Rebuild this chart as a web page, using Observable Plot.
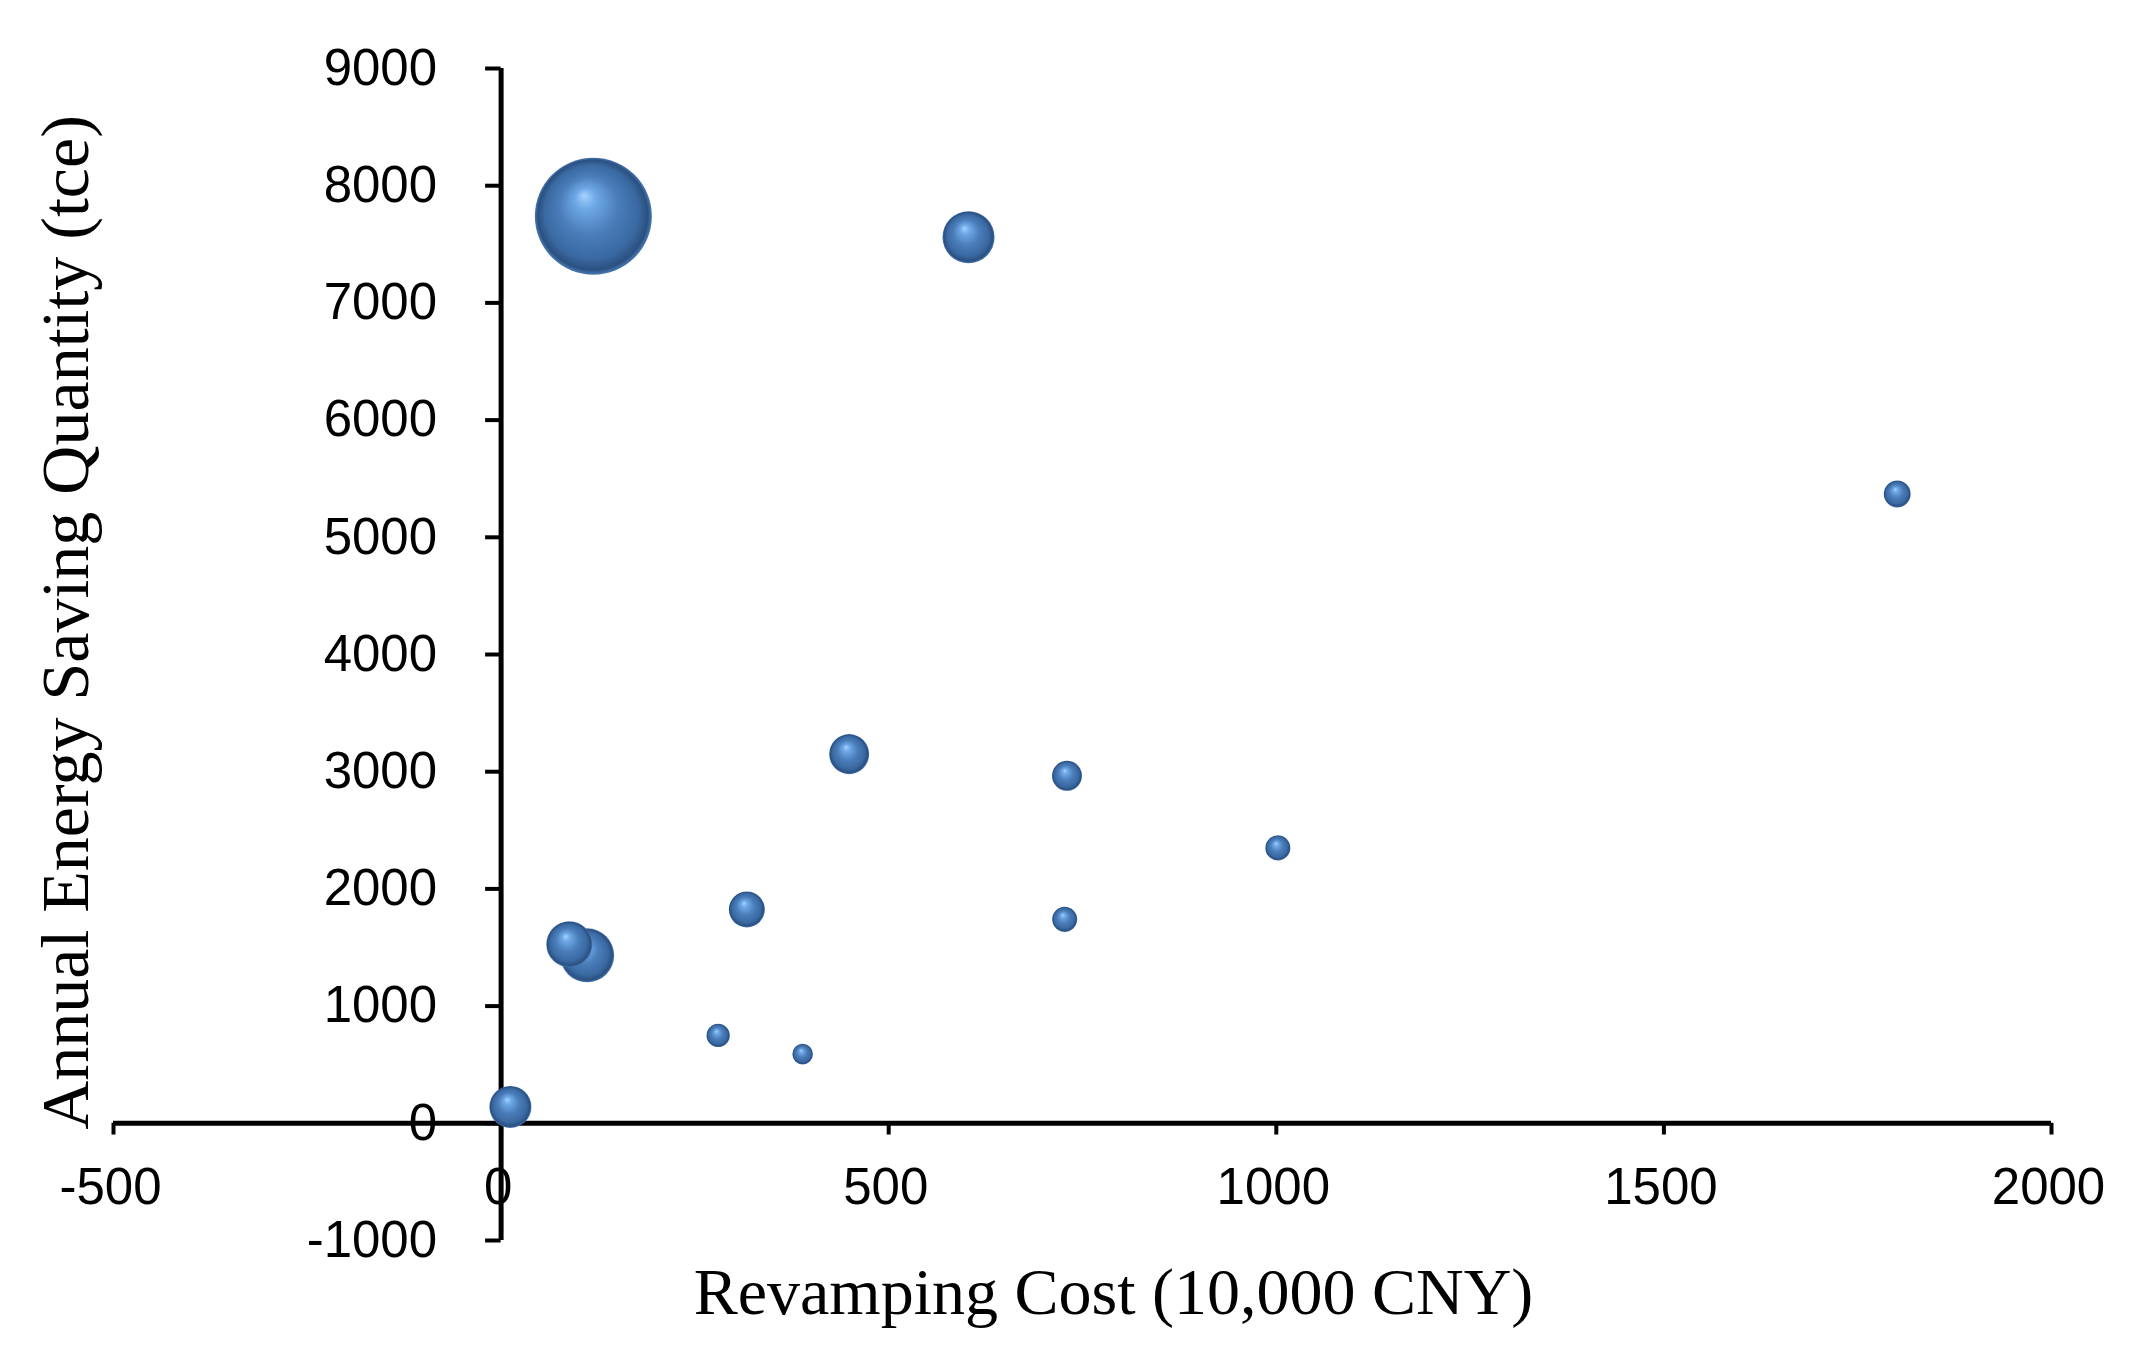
<!DOCTYPE html>
<html>
<head>
<meta charset="utf-8">
<script src="https://cdn.jsdelivr.net/npm/d3@7"></script>
<script src="https://cdn.jsdelivr.net/npm/@observablehq/plot@0.6"></script>
<style>
  html, body { margin: 0; padding: 0; background: #fff; }
  #chart svg { display: block; }
</style>
</head>
<body>
<div id="chart"></div>
<script>
// Revamping cost (10,000 CNY)
const cost = [119, 603, 1801, 449, 730, 1002, 317, 727, 88, 111, 280, 389, 12];
// Annual energy saving quantity (tce)
const saving = [7740, 7560, 5370, 3150, 2965, 2350, 1825, 1740, 1527, 1433, 750, 590, 140];
// Bubble size (relative)
const bubbleSize = [100, 19.8, 5.3, 11.7, 6.6, 4.6, 9.5, 4.6, 15.5, 21.3, 4.0, 3.1, 12.9];

const xTicks = [-500, 0, 500, 1000, 1500, 2000];
const yTicks = [-1000, 0, 1000, 2000, 3000, 4000, 5000, 6000, 7000, 8000, 9000];
const xLabel = "Revamping Cost (10,000 CNY)";
const yLabel = "Annual Energy Saving Quantity (tce)";

const points = cost.map((c, i) => ({cost: c, saving: saving[i], size: bubbleSize[i]}));

function gradientDefs() {
  const defs = d3.create("svg:defs");
  const g = defs.append("radialGradient")
    .attr("id", "bubbleGrad")
    .attr("cx", "0.5").attr("cy", "0.5").attr("r", "0.5")
    .attr("fx", "0.42").attr("fy", "0.32");
  [[0, "#a4d3ff"], [0.18, "#6ea8e6"], [0.5, "#4a7db9"], [0.8, "#3a69a2"], [0.94, "#2b5080"], [1, "#4a7ab5"]]
    .forEach(([o, c]) => g.append("stop").attr("offset", o).attr("stop-color", c));
  return defs.node();
}

const tickFont = "Liberation Sans, Arial, sans-serif";
const titleFont = "Liberation Serif, Times New Roman, serif";

const chart = Plot.plot({
  width: 2133,
  height: 1347,
  marginLeft: 113,
  marginRight: 82,
  marginTop: 68,
  marginBottom: 107,
  x: {domain: [-500, 2000], axis: null},
  y: {domain: [-1000, 9000], axis: null},
  r: {type: "sqrt", domain: [0, 100], range: [0, 58.5]},
  style: {background: "#fff"},
  marks: [
    gradientDefs,
    // x axis line at y = 0
    Plot.ruleY([0], {x1: -500, x2: 2000, stroke: "#000", strokeWidth: 5}),
    // x ticks
    Plot.ruleX(xTicks, {x: d => d, y1: 0, y2: -100, stroke: "#000", strokeWidth: 4}),
    // y axis line at x = 0
    Plot.ruleX([0], {y1: -1000, y2: 9000, stroke: "#000", strokeWidth: 5}),
    // y ticks
    Plot.ruleY(yTicks, {y: d => d, x1: 0, x2: -20, stroke: "#000", strokeWidth: 4}),
    // x tick labels
    Plot.text(xTicks, {x: d => d, y: 0, text: d => String(d), dy: 64, dx: -3, fontFamily: tickFont, fontSize: 51, fill: "#000"}),
    // y tick labels
    Plot.text(yTicks, {x: 0, y: d => d, text: d => String(d), dx: -64, textAnchor: "end", fontFamily: tickFont, fontSize: 51, fill: "#000"}),
    // bubbles
    Plot.dot(points, {x: "cost", y: "saving", r: "size", fill: "url(#bubbleGrad)", stroke: "none"}),
    // axis titles
    Plot.text([xLabel], {frameAnchor: "bottom", textAnchor: "middle", lineAnchor: "middle", dx: 31, dy: 52, fontFamily: titleFont, fontSize: 66, fill: "#000"}),
    Plot.text([yLabel], {frameAnchor: "left", textAnchor: "middle", lineAnchor: "middle", rotate: -90, dx: -47, dy: -32, fontFamily: titleFont, fontSize: 68, fill: "#000"})
  ]
});

document.getElementById("chart").appendChild(chart);
</script>
</body>
</html>
